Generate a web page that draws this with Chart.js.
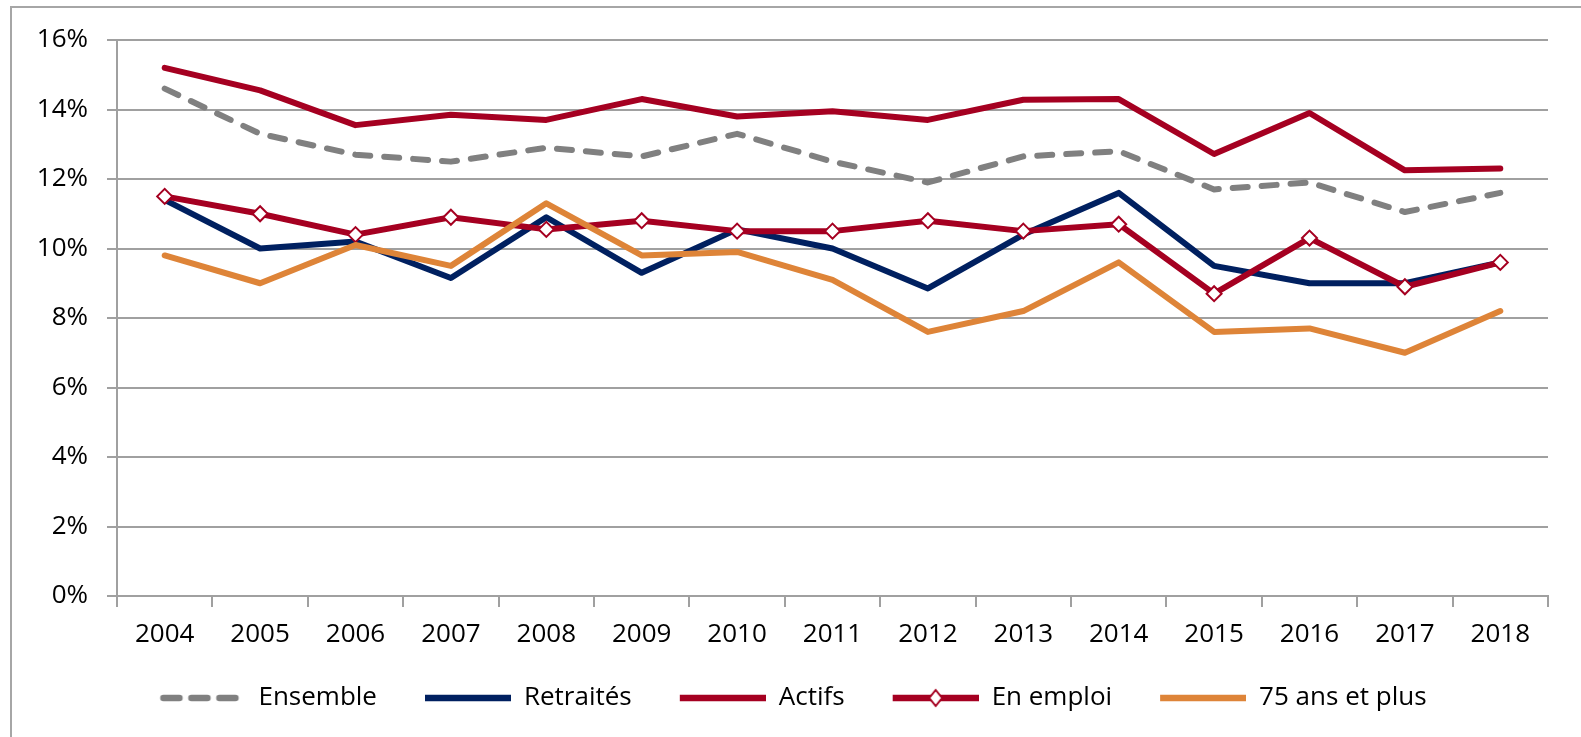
<!DOCTYPE html>
<html>
<head>
<meta charset="utf-8">
<script src="https://cdn.jsdelivr.net/npm/chart.js@4.4.1/dist/chart.umd.min.js"></script>
<style>
  html, body { margin: 0; padding: 0; background: #fff; }
  #wrap { position: relative; width: 1581px; height: 737px; }
  #frame { position: absolute; left: 10px; top: 6px; right: -4px; bottom: -4px;
           border-left: 2px solid #a6a6a6; border-top: 2px solid #a6a6a6; }
  canvas { position: absolute; left: 0; top: 0; }
</style>
</head>
<body>
<div id="wrap">
  <div id="frame"></div>
  <canvas id="c" width="1581" height="737"></canvas>
</div>
<script>
// ── DATA ───────────────────────────────────────────────────────────────────
const years = ['2004','2005','2006','2007','2008','2009','2010','2011','2012','2013','2014','2015','2016','2017','2018'];

const ensemble  = [14.6, 13.3, 12.7, 12.5, 12.9, 12.65, 13.3, 12.5, 11.9, 12.65, 12.8, 11.7, 11.9, 11.05, 11.6];
const retraites = [11.4, 10.0, 10.2, 9.15, 10.9, 9.3, 10.55, 10.0, 8.85, 10.4, 11.6, 9.5, 9.0, 9.0, 9.6];
const actifs    = [15.2, 14.55, 13.55, 13.85, 13.7, 14.3, 13.8, 13.95, 13.7, 14.28, 14.3, 12.72, 13.9, 12.25, 12.3];
const enEmploi  = [11.5, 11.0, 10.4, 10.9, 10.55, 10.8, 10.5, 10.5, 10.8, 10.5, 10.7, 8.7, 10.3, 8.9, 9.6];
const plus75    = [9.8, 9.0, 10.1, 9.5, 11.3, 9.8, 9.9, 9.1, 7.6, 8.2, 9.6, 7.6, 7.7, 7.0, 8.2];

const seriesNames = ['Ensemble', 'Retraités', 'Actifs', 'En emploi', '75 ans et plus'];
const yTicks = [0, 2, 4, 6, 8, 10, 12, 14, 16];

// ── STYLE ──────────────────────────────────────────────────────────────────
const COLORS = {
  gray:   '#808080',
  navy:   '#002060',
  red:    '#A50021',
  orange: '#DE8438',
  grid:   '#a0a0a0',
  text:   '#000000',
};
const LINE_W = 6;
const FONT = { family: "'Open Sans', sans-serif", size: 26 };

// legend samples: transparent lead-in (spacing) + 86px line swatch
const LEAD = 38, SW = 86;
function legendSwatch(color, kind) {
  const cv = document.createElement('canvas');
  cv.width = LEAD + SW; cv.height = 20;
  const g = cv.getContext('2d');
  g.strokeStyle = color; g.lineWidth = 6.5; g.lineCap = 'round';
  g.beginPath();
  if (kind === 'dash') {
    g.setLineDash([16, 12]);
    g.moveTo(LEAD + 4, 10); g.lineTo(LEAD + SW - 2, 10);
  } else {
    g.lineCap = 'butt';
    g.moveTo(LEAD, 10); g.lineTo(LEAD + SW, 10);
  }
  g.stroke();
  if (kind === 'diamond') {
    const cx = LEAD + SW / 2, r = 8;
    g.setLineDash([]);
    g.beginPath();
    g.moveTo(cx, 10 - r); g.lineTo(cx + r * 0.8, 10); g.lineTo(cx, 10 + r); g.lineTo(cx - r * 0.8, 10); g.closePath();
    g.fillStyle = '#fff'; g.fill();
    g.lineWidth = 2; g.strokeStyle = color; g.stroke();
  }
  return cv;
}

const swatches = [
  legendSwatch(COLORS.gray, 'dash'),
  legendSwatch(COLORS.navy, 'line'),
  legendSwatch(COLORS.red, 'line'),
  legendSwatch(COLORS.red, 'diamond'),
  legendSwatch(COLORS.orange, 'line'),
];

function lineSet(label, data, color, order, extra) {
  return Object.assign({
    label, data, order,
    borderColor: color,
    backgroundColor: color,
    borderWidth: LINE_W,
    pointRadius: 0,
    pointHoverRadius: 0,
    tension: 0,
    borderJoinStyle: 'round',
    borderCapStyle: 'round',
  }, extra || {});
}

new Chart(document.getElementById('c'), {
  type: 'line',
  data: {
    labels: years,
    datasets: [
      lineSet(seriesNames[0], ensemble,  COLORS.gray,   5, { borderDash: [15, 14] }),
      lineSet(seriesNames[1], retraites, COLORS.navy,   4),
      lineSet(seriesNames[2], actifs,    COLORS.red,    3),
      lineSet(seriesNames[3], enEmploi,  COLORS.red,    2, {
        pointStyle: 'rectRot', pointRadius: 7.5, pointBorderWidth: 2,
        pointBackgroundColor: '#fff', pointBorderColor: COLORS.red,
      }),
      lineSet(seriesNames[4], plus75,    COLORS.orange, 1),
    ],
  },
  options: {
    responsive: false,
    animation: false,
    devicePixelRatio: 1,
    layout: { padding: { left: 0, right: 33, top: 40, bottom: 16 } },
    plugins: {
      tooltip: { enabled: false },
      legend: {
        position: 'bottom',
        labels: {
          usePointStyle: true,
          pointStyleWidth: LEAD + SW,
          padding: 10,
          color: COLORS.text,
          font: FONT,
          generateLabels: () => seriesNames.map((name, i) => ({
            text: name,
            pointStyle: swatches[i],
            fontColor: COLORS.text,
            datasetIndex: i,
            hidden: false,
            lineWidth: 0,
          })),
        },
      },
    },
    scales: {
      x: {
        offset: true,
        grid: { offset: true, drawOnChartArea: false, drawTicks: true, tickLength: 11, color: COLORS.grid, lineWidth: 2 },
        border: { color: COLORS.grid, width: 2 },
        ticks: { color: COLORS.text, font: FONT, padding: 12, maxRotation: 0, autoSkip: false },
        afterFit: s => { s.height = 79; },
      },
      y: {
        min: 0, max: 16,
        afterBuildTicks: s => { s.ticks = yTicks.map(v => ({ value: v })); },
        grid: { color: COLORS.grid, lineWidth: 2, drawTicks: true, tickLength: 10 },
        border: { color: COLORS.grid, width: 2 },
        ticks: { color: COLORS.text, font: FONT, padding: 19, callback: v => v + '%' },
        afterFit: s => { s.width = 117; },
      },
    },
  },
});
</script>
</body>
</html>
